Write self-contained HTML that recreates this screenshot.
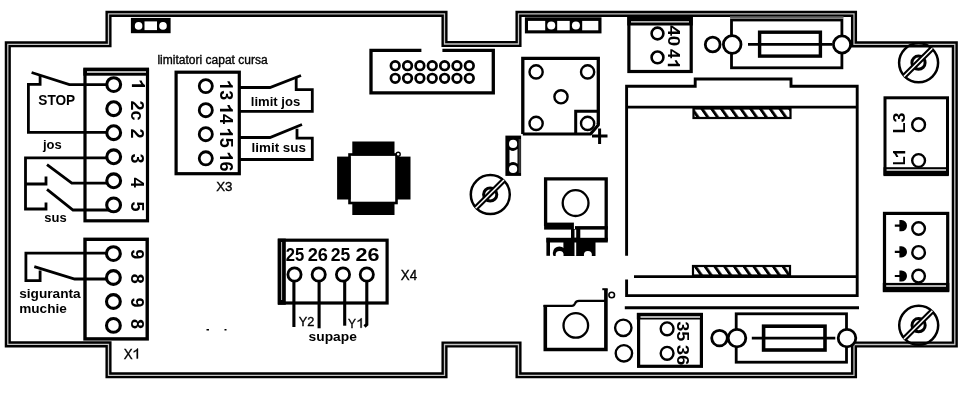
<!DOCTYPE html>
<html><head><meta charset="utf-8"><style>
html,body{margin:0;padding:0;background:#fff;width:960px;height:402px;overflow:hidden}
svg{display:block;will-change:transform}
text{font-family:"Liberation Sans",sans-serif;fill:#000}
.b{font-weight:bold}
.r{stroke:#000;stroke-width:0.35px}
</style></head><body>
<svg width="960" height="402" viewBox="0 0 960 402">
<g fill="none" stroke="#000" stroke-width="2.6">
<!-- board outline -->
<path id="ol" d="M7.8,44.3 H108.5 V13.9 H444.5 V44 H518.5 V13.9 H854 V44.4 H954.8 V344.5 H854 V375.3 H518.5 V344.5 H444.5 V375.3 H108.5 V344.4 H7.8 Z" stroke-width="6.1" stroke-linejoin="miter"/>
<path d="M7.8,44.3 H108.5 V13.9 H444.5 V44 H518.5 V13.9 H854 V44.4 H954.8 V344.5 H854 V375.3 H518.5 V344.5 H444.5 V375.3 H108.5 V344.4 H7.8 Z" stroke="#c4c4c4" stroke-width="1.3"/>

<!-- X1 upper box -->
<rect x="85" y="70" width="62.5" height="150.8" stroke-width="3.2"/>
<!-- X1 lower box -->
<rect x="85" y="239.3" width="62.2" height="99.6" stroke-width="3.4"/>

<!-- X1 circles -->
<g stroke-width="3.1">
<circle cx="113.7" cy="84.6" r="6.9"/><circle cx="113.7" cy="108.7" r="6.9"/><circle cx="113.7" cy="132.7" r="6.9"/>
<circle cx="113.7" cy="156.8" r="6.9"/><circle cx="113.7" cy="180.8" r="6.9"/><circle cx="113.6" cy="204.9" r="6.9"/>
<circle cx="113.4" cy="253.6" r="6.9"/><circle cx="113.4" cy="277.5" r="6.9"/><circle cx="113.4" cy="301.5" r="6.9"/><circle cx="113.4" cy="325.4" r="6.9"/>
</g>

<!-- STOP switch -->
<polyline points="31.6,72.5 69.4,84.6 106.8,84.6" stroke-width="2.8"/>
<polyline points="40.1,75.3 40.1,84.4 28.4,84.4 28.4,132.4 106.8,132.4" stroke-width="2.8"/>
<!-- jos/sus -->
<polyline points="106.8,157.8 25.5,157.8 25.5,209 46,209 46,202.4" stroke-width="2.8"/>
<polyline points="25.5,184 46,184 46,176.4" stroke-width="2.8"/>
<polyline points="47,164.6 71.8,183.2 107.3,183.2" stroke-width="2.8"/>
<polyline points="47,189.4 73,210 109.2,210" stroke-width="2.8"/>
<!-- siguranta -->
<polyline points="106.6,253.1 25.9,253.1 25.9,280.7 40.1,280.7 40.1,270.5" stroke-width="2.8"/>
<polyline points="34.3,266.7 74.7,279 106.6,279" stroke-width="2.8"/>

<!-- X3 box -->
<rect x="176.1" y="72.2" width="63.2" height="101.5" stroke-width="3.2"/>
<g stroke-width="2.8">
<circle cx="205.8" cy="86.1" r="6.55"/><circle cx="205.8" cy="110.2" r="6.55"/><circle cx="205.8" cy="134.2" r="6.55"/><circle cx="205.8" cy="158.3" r="6.55"/>
</g>
<!-- limit jos / limit sus switches -->
<polyline points="240,87.5 270,87.5 301,75.5" stroke-width="2.8"/>
<polyline points="296.2,78 296.2,89.6 312.3,89.6 312.3,111.4 240,111.4" stroke-width="2.8"/>
<polyline points="240,137.5 270,137.5 302,124.5" stroke-width="2.8"/>
<polyline points="297,128.7 297,138.2 312.3,138.2 312.3,159.5 240,159.5" stroke-width="2.8"/>

<!-- ribbon header -->
<path d="M421.4,50.3 H371 V92.8 H493.3 V50.3 H442.4" stroke-width="3.3"/>
<g stroke-width="2.7">
<circle cx="395.20" cy="65.7" r="4.3"/><circle cx="407.55" cy="65.7" r="4.3"/><circle cx="419.90" cy="65.7" r="4.3"/><circle cx="432.25" cy="65.7" r="4.3"/><circle cx="444.60" cy="65.7" r="4.3"/><circle cx="456.95" cy="65.7" r="4.3"/><circle cx="469.30" cy="65.7" r="4.3"/><circle cx="395.20" cy="78.3" r="4.3"/><circle cx="407.55" cy="78.3" r="4.3"/><circle cx="419.90" cy="78.3" r="4.3"/><circle cx="432.25" cy="78.3" r="4.3"/><circle cx="444.60" cy="78.3" r="4.3"/><circle cx="456.95" cy="78.3" r="4.3"/><circle cx="469.30" cy="78.3" r="4.3"/>
</g>

<!-- X4 -->
<rect x="279.2" y="240.2" width="107.9" height="62.8" stroke-width="3.2"/>
<rect x="278" y="238.6" width="7.8" height="66.2" fill="#000" stroke="none"/>
<line x1="281.6" y1="242" x2="281.6" y2="300" stroke="#bbb" stroke-width="1"/>
<g stroke-width="2.8">
<circle cx="294.5" cy="274.5" r="6.6"/><circle cx="318.7" cy="274.5" r="6.6"/><circle cx="343" cy="274.5" r="6.6"/><circle cx="366.8" cy="274.5" r="6.6"/>
</g>
<g stroke-width="3.1">
<line x1="293.9" y1="281" x2="293.9" y2="327"/>
<line x1="319.1" y1="281" x2="319.1" y2="328.3"/>
<line x1="344.7" y1="281" x2="344.7" y2="325.7"/>
<path d="M366.8,281 V324.5 L364.5,326.5"/>
</g>

<!-- 40/41 box -->
<rect x="628.9" y="18" width="62.3" height="53.5" stroke-width="3.2"/>
<rect x="627.3" y="15.2" width="65.5" height="10.3" fill="#000" stroke="none"/>
<g stroke-width="2.6"><circle cx="657.5" cy="33.5" r="5.9"/><circle cx="657.5" cy="57.4" r="5.9"/></g>

<!-- top fuse holder -->
<g stroke-width="2.8">
<rect x="731.5" y="20" width="110.4" height="47.8"/>
<line x1="730" y1="17.4" x2="843.5" y2="17.4" stroke="#666" stroke-width="2.4"/>
<circle cx="712.7" cy="44.5" r="7.4" fill="#fff"/>
<circle cx="732.2" cy="44.5" r="8.8" fill="#fff"/>
<circle cx="842" cy="44.5" r="8.6" fill="#fff"/>
<line x1="748" y1="44.3" x2="832" y2="44.3"/>
<rect x="759.6" y="32.2" width="60.8" height="23.9" stroke-width="3.4"/>
</g>

<!-- bottom fuse holder -->
<g stroke-width="2.8">
<rect x="736.2" y="313.8" width="110.3" height="48.4"/>
<circle cx="719.5" cy="338.1" r="7.8" fill="#fff"/>
<circle cx="737" cy="338.1" r="8.8" fill="#fff"/>
<circle cx="847" cy="338.1" r="8.8" fill="#fff"/>
<line x1="751.8" y1="338.1" x2="835.3" y2="338.1"/>
<rect x="763.6" y="326.2" width="61.4" height="23.8" stroke-width="3.6"/>
</g>

<!-- big relay box -->
<path d="M626.6,255.7 V86.2 H695.2 V79 H791 V86.2 H857.2 V295.6 H626.6 V279.6" stroke-width="2.9"/>
<line x1="626.6" y1="107.1" x2="857.2" y2="107.1" stroke-width="2.8"/>
<line x1="634" y1="276.6" x2="857.2" y2="276.6" stroke-width="2.8"/>
<line x1="624.8" y1="307.8" x2="859" y2="307.8" stroke-width="2.9"/>
<line x1="628" y1="71.5" x2="692" y2="71.5" stroke-width="3"/>

<!-- square component -->
<path d="M522.8,134 V58.3 H598.3 V124" stroke-width="3.3"/>
<path d="M522.8,134 H590.5 L598.3,125 V123" stroke-width="3.2" stroke-linejoin="round"/>
<path d="M575.7,133 V111.2 H598.3" stroke-width="3"/>
<g stroke-width="2.4">
<circle cx="536.1" cy="71.9" r="6.6"/><circle cx="587.6" cy="71.9" r="6.6"/><circle cx="561" cy="96.8" r="6.6"/><circle cx="536.1" cy="123.4" r="6.6"/><circle cx="587.6" cy="123.4" r="6.6"/>
</g>
<path d="M592,136 H607.5 M599.6,128.4 V144" stroke-width="3"/>

<!-- button -->
<path d="M545.3,305 V349.5 H605.9 V289.2" stroke-width="3.6"/>
<path d="M543.5,305.9 H572 Q574,305.9 575,303.5 Q576,300.9 579,300.9 H605" stroke-width="2.1"/>
<path d="M602.3,289.2 H607.7" stroke-width="2"/>
<circle cx="611.7" cy="295" r="2.8" stroke-width="1.6"/>
<circle cx="575.8" cy="325.4" r="12.3" stroke-width="2.3"/>
<g stroke-width="2.4"><circle cx="623.3" cy="327.8" r="8.2"/><circle cx="623.9" cy="353.3" r="8.2"/></g>

<!-- 35/36 box -->
<rect x="638.6" y="314.5" width="62.8" height="51.8" stroke-width="3.2"/>
<rect x="636.8" y="312.9" width="66" height="6.6" fill="#000" stroke="none"/>
<g stroke-width="2.4"><circle cx="667.1" cy="328.8" r="6.4"/><circle cx="667.1" cy="353.3" r="6.4"/></g>

<!-- L box -->
<rect x="885" y="97.8" width="62.5" height="76" stroke-width="3"/>
<g stroke-width="2.4"><circle cx="918.6" cy="124.7" r="6.4"/><circle cx="918.6" cy="160.5" r="6.4"/></g>
<!-- + box -->
<rect x="884.5" y="213.4" width="63.2" height="76.4" stroke-width="3.2"/>
<g stroke-width="2.4"><circle cx="918.6" cy="228.5" r="6.3"/><circle cx="918.6" cy="252.4" r="6.3"/><circle cx="918.6" cy="276.1" r="6.3"/></g>

<!-- transistor-ish component -->
<path d="M545.6,226 V178.8 H606.2 V241" stroke-width="3.3"/>
<circle cx="575.6" cy="203.1" r="12.9" stroke-width="2.3"/>
</g>

<!-- filled shapes -->
<g fill="#000">
<!-- top-left fuse part -->
<rect x="130.9" y="17.9" width="39.7" height="15.3"/>
<!-- X1 top band -->
<rect x="83.3" y="67.6" width="65.7" height="8.1"/>
<!-- chip -->
<rect x="349.5" y="154.5" width="47" height="48.5" fill="none" stroke="#000" stroke-width="2.6"/>
<rect x="352.3" y="141.5" width="42.2" height="14"/>
<rect x="337.1" y="156.6" width="13.5" height="42.9"/>
<rect x="396" y="156.6" width="14.5" height="42.9"/>
<rect x="352.3" y="202" width="42.2" height="13"/>
<circle cx="398.2" cy="154.2" r="2" fill="#fff" stroke="#000" stroke-width="1.4"/>
<!-- top-right small connector -->
<rect x="524.9" y="17.3" width="76.6" height="16.1"/>
<!-- small vertical component -->
<rect x="505.4" y="135.6" width="15.7" height="40.3"/>
<!-- L box bottom band -->
<rect x="883.5" y="167.2" width="65.3" height="8.9"/>
<!-- + box bottom band -->
<rect x="882.8" y="282.9" width="66.5" height="9.3"/>
<!-- transistor bottom parts -->
<rect x="544.1" y="222.6" width="29.8" height="7"/>
<rect x="575" y="226.1" width="32.8" height="3.5"/>
<rect x="571" y="229" width="9.3" height="27"/>
<rect x="546.4" y="237.8" width="61.4" height="4.7"/>
<rect x="546.4" y="237.8" width="3.6" height="18"/>
<rect x="563.4" y="242" width="8" height="14"/>
<rect x="580" y="242" width="15.5" height="14"/>
<circle cx="559.4" cy="253" r="6.6"/>
<!-- arrows -->
<path d="M894.8,224.6h5.2v2.2h-5.2z M899.4,220.1 H901.5 A5.5,5.6 0 0 1 901.5,231.3 H899.4 Z"/>
<path d="M894.8,250.8h5.2v2.2h-5.2z M899.4,246.3 H901.5 A5.5,5.6 0 0 1 901.5,257.5 H899.4 Z"/>
<path d="M894.8,274.9h5.2v2.2h-5.2z M899.4,270.4 H901.5 A5.5,5.6 0 0 1 901.5,281.6 H899.4 Z"/>
</g>

<!-- white detail shapes -->
<g fill="#fff">
<circle cx="138.6" cy="25.9" r="3.8"/><rect x="144.5" y="21.4" width="12.5" height="8.7"/><circle cx="163" cy="25.9" r="3.8"/>
<rect x="528" y="20.9" width="17.2" height="9.4"/><circle cx="551.25" cy="25.6" r="4"/><rect x="557.2" y="20.9" width="12.5" height="9.4"/><circle cx="575.9" cy="25.6" r="4"/><rect x="582.2" y="20.9" width="16.1" height="9.4"/>
<rect x="518.6" y="139" width="2.2" height="34" fill="#3a3a3a"/><circle cx="513.1" cy="143.9" r="4.1"/><path d="M509.5,149.7 A6.8,6.8 0 0 0 517.5,149.1 V163.8 A6.8,6.8 0 0 0 509.5,163.2 Z"/><circle cx="513.1" cy="169" r="4.1"/>
<rect x="574.5" y="229.6" width="1.7" height="8"/><rect x="574.5" y="242.5" width="1.7" height="13.4"/>
<circle cx="587.9" cy="254.9" r="4"/>
</g>
<g fill="none" stroke="#eee" stroke-width="1.3">
<line x1="87" y1="72" x2="146" y2="72"/>
<line x1="631" y1="21.8" x2="689" y2="21.8"/>
<line x1="640.5" y1="317" x2="700" y2="317"/>
<line x1="886.6" y1="170" x2="946" y2="170"/>
<line x1="886.2" y1="286" x2="946" y2="286"/>
</g>

<circle cx="559.6" cy="255" r="4" fill="#fff"/>
<rect x="545" y="256" width="64" height="6" fill="#fff"/>
<!-- hatched bars -->
<defs>
<path id="o1b" d="M0.41,0 V-0.716 H0.30 L0.262,-0.655 L0.19,-0.595 L0.06,-0.53 V-0.40 L0.16,-0.445 L0.27,-0.515 V0 Z"/>
<path id="o1r" d="M0.385,0 V-0.716 H0.325 L0.285,-0.655 L0.20,-0.59 L0.08,-0.525 V-0.44 L0.18,-0.49 L0.29,-0.555 V0 Z"/>
<pattern id="hat" patternUnits="userSpaceOnUse" width="9.75" height="10" patternTransform="skewX(35)">
<rect x="0" y="0" width="3.5" height="10" fill="#000"/>
</pattern>
</defs>
<rect x="693.5" y="108.5" width="97" height="9.5" fill="url(#hat)" stroke="#000" stroke-width="2.2"/>
<rect x="693" y="266" width="97" height="9.5" fill="url(#hat)" stroke="#000" stroke-width="2.2"/>

<!-- screw symbols -->
<g id="scr" fill="none" stroke="#000">
<circle cx="490.3" cy="194.6" r="19.5" stroke-width="2.5"/>
<circle cx="490.2" cy="194.5" r="6.6" stroke-width="3"/>
<line x1="475.6" y1="208.3" x2="504" y2="180" stroke-width="5.6"/>
<line x1="475.6" y1="208.3" x2="504" y2="180" stroke="#fff" stroke-width="1.5"/>
</g>
<use href="#scr" transform="translate(428.3,-131.8)"/>
<use href="#scr" transform="translate(428.4,130.7)"/>

<!-- texts -->
<text class="b" x="38.3" y="105.2" font-size="14" textLength="36.9" lengthAdjust="spacingAndGlyphs">STOP</text>
<text class="b" x="43" y="148.7" font-size="13">jos</text>
<text class="b" x="44.3" y="222.2" font-size="13">sus</text>
<text class="b" x="19.2" y="297.7" font-size="13.3" textLength="61.5" lengthAdjust="spacingAndGlyphs">siguranta</text>
<text class="b" x="19.2" y="312.8" font-size="13.5" textLength="47.6" lengthAdjust="spacingAndGlyphs">muchie</text>
<text class="r" x="123.8" y="358.5" font-size="14.2" textLength="8.9" lengthAdjust="spacingAndGlyphs">X</text><use href="#o1r" transform="translate(132.6,358.6) scale(14)" stroke="#000" stroke-width="0.025"/>
<text class="r" x="157.4" y="64.2" font-size="12" textLength="110.3" lengthAdjust="spacingAndGlyphs">limitatori capat cursa</text>
<text class="r" x="216.2" y="190.6" font-size="13.6" textLength="16.3" lengthAdjust="spacingAndGlyphs">X3</text>
<text class="b" x="250.8" y="105.7" font-size="13.2" textLength="49.5" lengthAdjust="spacingAndGlyphs">limit jos</text>
<text class="b" x="251.6" y="152.1" font-size="13.2" textLength="54.3" lengthAdjust="spacingAndGlyphs">limit sus</text>
<text class="r" x="400.8" y="279.8" font-size="13.9" textLength="16.3" lengthAdjust="spacingAndGlyphs">X4</text>
<text class="r" x="298.7" y="326.4" font-size="12.9" textLength="15.6" lengthAdjust="spacingAndGlyphs">Y2</text>
<text class="r" x="348.1" y="327.7" font-size="13.3" textLength="8" lengthAdjust="spacingAndGlyphs">Y</text><use href="#o1r" transform="translate(356.6,327.8) scale(13.3)" stroke="#000" stroke-width="0.025"/>
<text class="b" x="308.6" y="340.5" font-size="13.2" textLength="48.3" lengthAdjust="spacingAndGlyphs">supape</text>
<g class="b" font-size="18" text-anchor="middle">
<text x="295" y="261.3" textLength="18.5" lengthAdjust="spacingAndGlyphs">25</text><text x="317.8" y="261.3" textLength="20.3" lengthAdjust="spacingAndGlyphs">26</text><text x="340.5" y="261.3" textLength="19.6" lengthAdjust="spacingAndGlyphs">25</text><text x="367.4" y="261.3" textLength="24" lengthAdjust="spacingAndGlyphs">26</text>
</g>
<!-- rotated labels -->
<g class="b" font-size="18" text-anchor="middle">
<use href="#o1b" transform="translate(131.9,79.4) rotate(90) scale(18.3)"/>
<text transform="translate(130.8,110.6) rotate(90)">2c</text>
<text transform="translate(130.8,133.6) rotate(90)">2</text>
<text transform="translate(130.8,158.6) rotate(90)">3</text>
<text transform="translate(130.8,182.6) rotate(90)">4</text>
<text transform="translate(130.8,206.6) rotate(90)">5</text>
<text transform="translate(130.8,254.3) rotate(90)">9</text>
<text transform="translate(130.8,278.8) rotate(90)">8</text>
<text transform="translate(130.8,302.5) rotate(90)">9</text>
<text transform="translate(130.8,323.9) rotate(90)">8</text>
<use href="#o1b" transform="translate(220,80.2) rotate(90) scale(18)"/><text transform="translate(220,90.2) rotate(90)" text-anchor="start">3</text>
<use href="#o1b" transform="translate(220,104) rotate(90) scale(18)"/><text transform="translate(220,114) rotate(90)" text-anchor="start">4</text>
<use href="#o1b" transform="translate(220,127.8) rotate(90) scale(18)"/><text transform="translate(220,137.8) rotate(90)" text-anchor="start">5</text>
<use href="#o1b" transform="translate(220,151.6) rotate(90) scale(18)"/><text transform="translate(220,161.6) rotate(90)" text-anchor="start">6</text>
</g>
<g class="b" font-size="17" text-anchor="middle" lengthAdjust="spacingAndGlyphs">
<text transform="translate(667.8,35.85) rotate(90)" textLength="21" lengthAdjust="spacingAndGlyphs">40</text>
<text transform="translate(667.8,53.8) rotate(90)">4</text><use href="#o1b" transform="translate(667.8,59.2) rotate(90) scale(17)"/>
<text transform="translate(677.4,331.35) rotate(90)" textLength="20.2" lengthAdjust="spacingAndGlyphs">35</text>
<text transform="translate(677.4,355) rotate(90)" textLength="20.6" lengthAdjust="spacingAndGlyphs">36</text>
<text transform="translate(905.2,123) rotate(-90)" textLength="21" lengthAdjust="spacingAndGlyphs">L3</text>
<text transform="translate(905.2,165.2) rotate(-90)" text-anchor="start" textLength="9" lengthAdjust="spacingAndGlyphs">L</text><use href="#o1b" transform="translate(905.2,158) rotate(-90) scale(17)"/>
</g>
<!-- specks -->
<rect x="206.5" y="329" width="2.5" height="1.5" fill="#000"/>
<rect x="224.5" y="329" width="2" height="1.5" fill="#000"/>
</svg>
</body></html>
